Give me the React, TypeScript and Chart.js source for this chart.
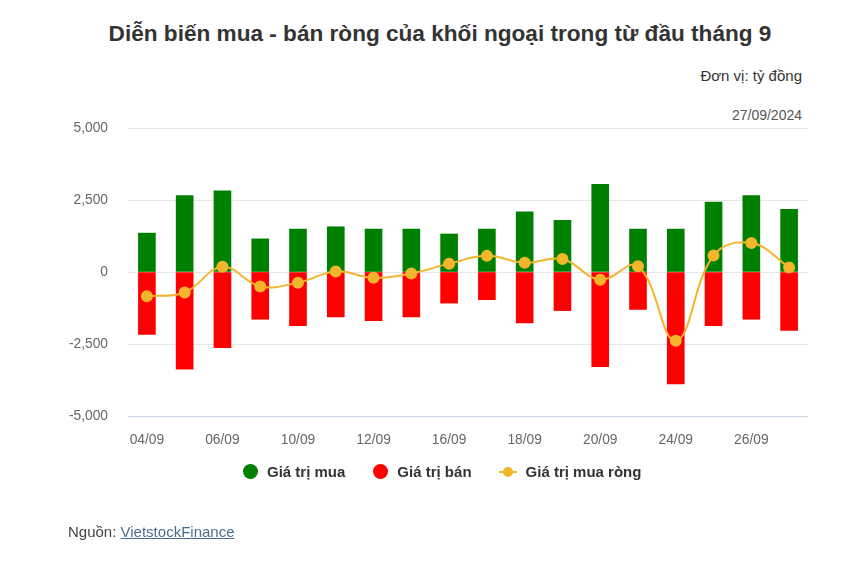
import React, { useEffect, useRef } from "react";
import { Chart, registerables } from "chart.js";

Chart.register(...registerables);

const categories = ["04/09", "05/09", "06/09", "09/09", "10/09", "11/09", "12/09", "13/09", "16/09", "17/09", "18/09", "19/09", "20/09", "23/09", "24/09", "25/09", "26/09", "27/09"];
const buyValues = [1350, 2650, 2820, 1150, 1490, 1570, 1490, 1490, 1320, 1490, 2090, 1790, 3040, 1490, 1490, 2430, 2650, 2180];
const sellValues = [-2170, -3370, -2630, -1640, -1860, -1560, -1690, -1560, -1080, -960, -1770, -1340, -3290, -1300, -3890, -1860, -1640, -2030];
const netValues = [-840, -710, 180, -500, -370, 20, -200, -50, 290, 560, 320, 450, -270, 200, -2390, 570, 1010, 160];
const yTicks = [-5000, -2500, 0, 2500, 5000];

const GREEN = "#008000";
const RED = "#ff0000";
const YELLOW = "#f2b52c";
const FONT = "'Liberation Sans', Arial, sans-serif";

export default function App() {
  const ref = useRef<HTMLCanvasElement | null>(null);
  useEffect(() => {
    if (!ref.current) return;
    const chart = new Chart(ref.current, {
      type: "bar",
      data: {
        labels: categories,
        datasets: [
          {
            type: "line" as const,
            label: "Giá trị mua ròng",
            data: netValues,
            borderColor: YELLOW,
            backgroundColor: YELLOW,
            borderWidth: 2,
            pointRadius: 5,
            pointBackgroundColor: YELLOW,
            pointBorderColor: YELLOW,
            tension: 0.4,
            order: 0,
          } as any,
          {
            label: "Giá trị mua",
            data: buyValues,
            backgroundColor: GREEN,
            barThickness: 17,
            order: 1,
          },
          {
            label: "Giá trị bán",
            data: sellValues,
            backgroundColor: RED,
            barThickness: 17,
            order: 2,
          },
        ],
      },
      options: {
        animation: false,
        responsive: false,
        maintainAspectRatio: false,
        layout: { padding: { left: 0, right: 54, top: 128, bottom: 117 } },
        plugins: { legend: { display: false }, tooltip: { enabled: false }, title: { display: false } },
        scales: {
          x: {
            stacked: true,
            grid: { display: false },
            border: { display: false },
            afterFit: (s: any) => { s.height = 30; },
            ticks: {
              autoSkip: false,
              maxRotation: 0,
              color: "#666666",
              font: { family: FONT, size: 13.8 },
              padding: 8,
              callback: (_v: any, i: number) => (i % 2 === 0 ? categories[i] : ""),
            },
          },
          y: {
            stacked: false,
            min: -5000,
            max: 5000,
            afterFit: (s: any) => { s.width = 128; },
            afterBuildTicks: (s: any) => { s.ticks = yTicks.map((v) => ({ value: v })); },
            border: { display: false },
            grid: {
              drawTicks: false,
              color: (ctx: any) => (ctx.tick && ctx.tick.value === -5000 ? "#ccd6eb" : "#e6e6e6"),
              lineWidth: 1,
            },
            ticks: {
              color: "#666666",
              padding: 20,
              font: { family: FONT, size: 13.8 },
              callback: (v: any) => Number(v).toLocaleString("en-US"),
            },
          },
        },
      },
    });
    return () => chart.destroy();
  }, []);

  const legendItem = (sym: React.ReactNode, text: string, mr: number) => (
    <div style={{ display: "flex", alignItems: "center", marginRight: mr }}>
      {sym}
      <span style={{ marginLeft: 9 }}>{text}</span>
    </div>
  );
  const dot = (c: string) => (
    <span style={{ display: "inline-block", width: 15, height: 15, borderRadius: "50%", background: c }} />
  );
  const lineSym = (
    <span style={{ position: "relative", display: "inline-block", width: 18, height: 12 }}>
      <span style={{ position: "absolute", left: 0, top: 5, width: 18, height: 2, background: YELLOW }} />
      <span style={{ position: "absolute", left: 4, top: 1, width: 10, height: 10, borderRadius: "50%", background: YELLOW }} />
    </span>
  );

  return (
    <div style={{ position: "fixed", left: 0, top: 0, width: 862, height: 563, background: "#fff", fontFamily: FONT, overflow: "hidden" }}>
      <div style={{ position: "absolute", left: 0, top: 21, width: 880, textAlign: "center", fontSize: 22.6, fontWeight: "bold", color: "#333333" }}>
        Diễn biến mua - bán ròng của khối ngoại trong từ đầu tháng 9
      </div>
      <div style={{ position: "absolute", right: 60, top: 67, fontSize: 15, color: "#333333" }}>Đơn vị: tỷ đồng</div>
      <div style={{ position: "absolute", right: 60, top: 107, fontSize: 14, color: "#555555" }}>27/09/2024</div>
      <canvas ref={ref} width={862} height={563} style={{ position: "absolute", left: 0, top: 0, width: 862, height: 563 }} />
      <div style={{ position: "absolute", left: 243, top: 463, display: "flex", fontSize: 15, fontWeight: "bold", color: "#333333" }}>
        {legendItem(dot(GREEN), "Giá trị mua", 28)}
        {legendItem(dot(RED), "Giá trị bán", 27)}
        {legendItem(lineSym, "Giá trị mua ròng", 0)}
      </div>
      <div style={{ position: "absolute", left: 68, top: 523, fontSize: 15, color: "#444444" }}>
        Nguồn: <span style={{ color: "#4a6f8e", textDecoration: "underline" }}>VietstockFinance</span>
      </div>
    </div>
  );
}
